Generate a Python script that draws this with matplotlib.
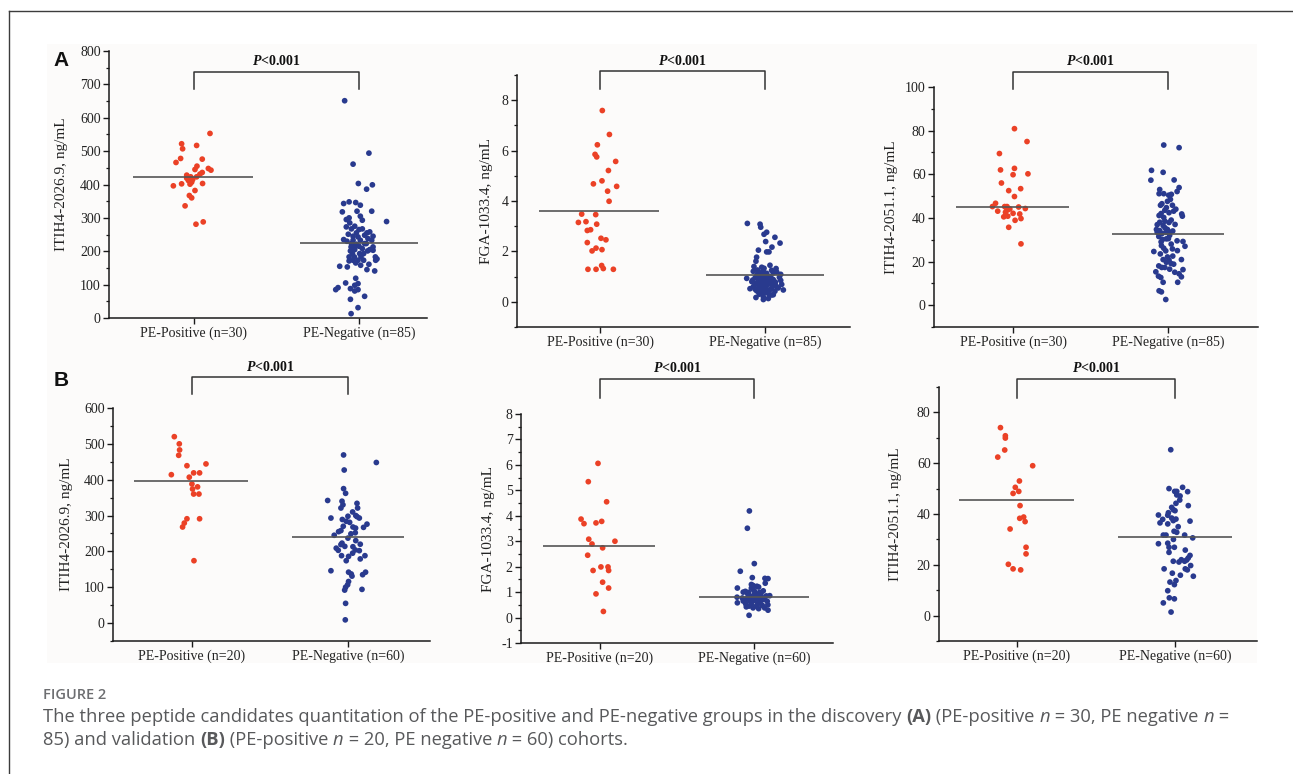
import numpy as np
import matplotlib
matplotlib.use('Agg')
import matplotlib.pyplot as plt
from matplotlib.ticker import MultipleLocator
from matplotlib.transforms import blended_transform_factory
from matplotlib.patches import Rectangle
from matplotlib.lines import Line2D

plt.rcParams['font.family'] = ['Liberation Serif', 'DejaVu Serif']
plt.rcParams['axes.unicode_minus'] = False
plt.rcParams['mathtext.fontset'] = 'custom'
plt.rcParams['mathtext.bf'] = 'Liberation Serif:bold'
plt.rcParams['mathtext.bfit'] = 'Liberation Serif:italic:bold'
plt.rcParams['mathtext.it'] = 'Liberation Serif:italic'
plt.rcParams['mathtext.rm'] = 'Liberation Serif'

W, H = 1293, 774

# ---------------- data ----------------
# dx = horizontal scatter offset from the group centre, in group units
a1_pos_val = [553, 522, 517, 507, 478, 476, 466, 455, 445, 448, 443, 436, 431, 423, 419,
              423, 412, 407, 402, 396, 401, 403, 382, 367, 360, 336, 288, 281, 415, 428]
a1_pos_dx = [0.097, -0.075, 0.016, -0.069, -0.081, 0.05, -0.109, 0.018, 0.006, 0.087, 0.103,
             0.05, 0.036, -0.02, -0.044, 0.016, -0.034, -0.014, -0.075, -0.125, -0.024, 0.052,
             0.006, -0.028, -0.014, -0.054, 0.056, 0.012, -0.008, -0.044]
a1_neg_val = [651, 494, 461, 403, 399, 386, 343, 348, 346, 338, 318, 320, 320, 300, 295, 305,
              293, 289, 285, 275, 267, 265, 267, 258, 255, 255, 251, 245, 245, 233, 235, 230,
              223, 221, 215, 213, 213, 205, 201, 203, 201, 205, 193, 183, 183, 183, 173, 173,
              171, 173, 165, 183, 177, 173, 161, 155, 153, 145, 141, 119, 105, 103, 98, 91, 85,
              88, 85, 81, 65, 56, 31, 13,
              243, 233, 223, 233, 208, 193, 193, 223, 273, 248, 238, 213, 158]
a1_neg_dx = [-0.087, 0.06, -0.036, -0.004, 0.081, 0.046, -0.093, -0.06, -0.02, 0.008, -0.101,
             -0.012, 0.077, -0.06, -0.077, 0.008, 0.02, 0.167, -0.056, -0.026, -0.046, 0.0, 0.02,
             0.065, 0.048, -0.016, -0.065, -0.036, 0.085, 0.077, -0.093, -0.073, -0.046, -0.016,
             0.0, -0.048, 0.085, 0.065, 0.052, 0.085, -0.052, -0.026, -0.04, -0.06, -0.028,
             0.012, -0.006, -0.036, -0.06, 0.028, -0.02, 0.099, 0.109, 0.101, 0.06, -0.117,
             -0.071, 0.048, 0.095, -0.02, -0.081, -0.006, -0.026, -0.127, -0.141, -0.052,
             -0.006, -0.026, 0.034, -0.052, -0.006, -0.048,
             -0.006, 0.008, 0.034, -0.036, 0.02, 0.028, 0.004, 0.044, -0.077, 0.034, 0.054,
             -0.026, 0.01]

a2_pos_val = [7.59, 6.64, 6.23, 5.85, 5.75, 5.57, 5.21, 4.80, 4.68, 4.58, 4.39, 3.99, 3.48, 3.46,
              3.15, 3.18, 3.08, 2.83, 2.86, 2.52, 2.46, 2.35, 2.13, 2.02, 2.07, 1.44, 1.32, 1.29,
              1.29, 1.29]
a2_pos_dx = [0.014, 0.057, -0.016, -0.03, -0.02, 0.095, 0.051, 0.012, -0.04, 0.101, 0.046, 0.055,
             -0.111, -0.026, -0.131, -0.085, -0.02, -0.077, -0.057, 0.006, 0.036, -0.077, -0.024,
             -0.048, 0.012, 0.01, 0.02, -0.073, -0.024, 0.081]
a2_neg_val = [3.11, 3.08, 2.96, 2.76, 2.68, 2.56, 2.33, 2.39, 2.17, 1.98, 1.98, 2.05, 1.77, 1.61,
              1.45, 1.40, 1.37, 1.33, 1.32, 1.26, 1.21, 1.16, 1.18, 1.09, 1.13, 1.06, 1.02, 0.93,
              0.92, 0.97, 0.97, 0.97, 0.86, 0.84, 0.84, 0.81, 0.78, 0.73, 0.70, 0.69, 0.69, 0.60,
              0.60, 0.57, 0.53, 0.53, 0.52, 0.47, 0.44, 0.44, 0.36, 0.27, 0.17, 0.20, 0.13, 0.09,
              1.10, 1.00, 0.95, 0.90, 0.88, 0.80, 0.78, 0.75, 0.72, 0.70, 0.68, 0.65, 0.62, 0.60,
              0.58, 0.55, 0.50, 0.48, 0.45, 0.42, 0.40, 0.38, 0.33, 0.30, 0.28, 1.25, 1.20, 1.15,
              0.85]
a2_neg_dx = [-0.107, -0.03, -0.026, 0.01, -0.006, 0.06, 0.091, 0.004, 0.042, 0.01, 0.024, -0.04,
             -0.051, -0.055, 0.03, -0.067, -0.02, -0.006, 0.067, -0.046, -0.071, -0.034, 0.071,
             0.095, 0.01, -0.014, -0.051, -0.111, 0.04, -0.026, 0.0, 0.087, -0.075, -0.038,
             -0.014, 0.02, 0.063, -0.055, 0.0, -0.026, 0.101, 0.071, -0.071, -0.038, -0.01, 0.04,
             -0.091, 0.111, -0.051, 0.016, -0.024, 0.04, -0.055, -0.01, 0.02, -0.01,
             -0.045, 0.03, -0.06, 0.015, 0.05, -0.08, -0.005, 0.035, -0.045, 0.06, 0.015, -0.02,
             0.045, -0.035, 0.005, 0.08, -0.06, 0.03, -0.02, 0.06, -0.04, 0.0, 0.02, -0.035,
             0.05, 0.04, -0.01, 0.05, 0.095]

a3_pos_val = [80.9, 75.0, 69.5, 62.0, 62.7, 59.8, 60.2, 56.0, 53.4, 52.5, 49.8, 46.7, 45.2, 45.2,
              45.2, 45.0, 43.1, 43.7, 42.6, 42.1, 41.8, 44.3, 40.5, 40.8, 39.7, 38.9, 35.7, 28.1,
              44.6, 44.1]
a3_pos_dx = [0.009, 0.09, -0.088, -0.081, 0.009, 0.0, 0.096, -0.075, 0.049, -0.028, 0.009, -0.113,
             -0.133, -0.054, -0.039, 0.036, -0.099, -0.034, -0.049, 0.0, 0.043, 0.079, -0.06,
             -0.034, 0.051, 0.013, -0.028, 0.051, -0.043, -0.021]
a3_neg_val = [73.4, 72.2, 61.8, 60.9, 57.3, 57.4, 53.9, 53.0, 52.1, 51.1, 51.1, 50.4, 50.8, 47.6,
              45.8, 45.8, 44.7, 43.5, 43.1, 42.4, 41.8, 40.8, 41.1, 40.2, 38.0, 38.5, 37.9, 36.9,
              36.5, 34.7, 34.2, 34.7, 33.4, 33.4, 33.4, 32.8, 30.4, 30.1, 30.5, 29.5, 29.2, 27.0,
              27.3, 26.1, 25.8, 24.6, 24.9, 22.1, 20.9, 20.6, 20.9, 19.7, 19.1, 18.8, 17.3, 17.3,
              16.3, 15.3, 15.1, 14.4, 13.3, 12.7, 13.0, 10.5, 10.5, 6.6, 6.1, 2.6,
              48.5, 46.5, 44.0, 42.0, 39.0, 37.0, 35.5, 34.0, 32.0, 31.5, 29.0, 28.0, 25.0, 23.5,
              22.5, 18.0, 16.5]
a3_neg_dx = [-0.028, 0.071, -0.107, -0.032, -0.111, 0.039, 0.071, -0.054, 0.058, -0.058, -0.028,
             0.004, 0.021, -0.004, -0.049, 0.028, -0.011, -0.021, 0.036, 0.006, 0.088, 0.092,
             -0.058, -0.028, -0.054, -0.021, 0.006, -0.07, -0.032, -0.075, -0.054, -0.004,
             -0.015, 0.011, -0.07, -0.04, -0.011, -0.036, 0.002, 0.058, 0.096, 0.109, -0.043,
             -0.028, 0.028, -0.092, -0.015, -0.004, -0.032, 0.006, 0.086, -0.011, 0.019, 0.036,
             -0.041, -0.021, 0.096, -0.079, 0.043, 0.071, -0.062, -0.047, 0.086, -0.032, 0.062,
             -0.058, -0.043, -0.015,
             0.015, -0.04, 0.05, -0.045, 0.02, 0.045, -0.02, 0.03, 0.01, -0.06, -0.045, 0.02,
             0.06, -0.05, 0.03, -0.06, 0.01]

b1_pos_val = [520, 500, 483, 468, 439, 444, 414, 419, 419, 407, 388, 380, 374, 360, 360, 291,
              291, 279, 268, 174]
b1_pos_dx = [-0.113, -0.081, -0.079, -0.085, -0.032, 0.09, -0.132, 0.011, 0.049, -0.017, 0.0,
             0.036, 0.004, 0.011, 0.045, -0.032, 0.049, -0.049, -0.06, 0.013]
b1_neg_val = [469, 448, 427, 375, 362, 342, 340, 334, 330, 321, 321, 310, 298, 293, 297, 293, 289,
              284, 281, 276, 267, 268, 265, 258, 249, 252, 245, 237, 223, 219, 220, 213, 209, 203,
              204, 202, 188, 186, 188, 179, 174, 146, 142, 142, 137, 135, 131, 116, 107, 100, 92,
              94, 55, 9,
              255, 230, 214, 195, 270, 300]
b1_neg_dx = [-0.028, 0.182, -0.024, -0.028, -0.015, -0.13, -0.038, 0.058, -0.032, -0.045, 0.062,
             0.03, 0.0, -0.109, 0.058, 0.073, -0.036, -0.011, 0.011, 0.122, 0.1, 0.032, 0.049,
             -0.045, 0.019, 0.047, -0.088, 0.0, -0.038, -0.045, 0.079, 0.032, -0.075, -0.062,
             0.047, 0.073, -0.041, 0.004, 0.109, 0.079, -0.011, -0.109, 0.004, 0.113, 0.021,
             0.094, 0.026, 0.004, -0.002, -0.015, -0.021, 0.09, -0.015, -0.017,
             -0.06, 0.05, -0.02, 0.03, -0.03, 0.05]

b2_pos_val = [6.06, 5.34, 4.55, 3.87, 3.69, 3.72, 3.78, 3.08, 3.00, 2.89, 2.74, 2.45, 1.99, 1.99,
              1.85, 1.85, 1.39, 1.16, 0.93, 0.24]
b2_pos_dx = [-0.013, -0.076, 0.043, -0.123, -0.104, -0.026, 0.011, -0.073, 0.097, -0.052, 0.017,
             -0.08, 0.006, 0.052, -0.045, 0.056, 0.017, 0.056, -0.026, 0.022]
b2_neg_val = [4.19, 3.51, 2.12, 1.82, 1.57, 1.54, 1.53, 1.35, 1.30, 1.26, 1.23, 1.16, 1.16, 1.03,
              0.99, 0.99, 1.03, 0.80, 0.86, 0.86, 0.90, 0.82, 0.77, 0.71, 0.71, 0.67, 0.67, 0.71,
              0.64, 0.58, 0.54, 0.54, 0.58, 0.48, 0.45, 0.45, 0.38, 0.38, 0.29, 0.09,
              1.20, 1.10, 1.05, 1.00, 0.95, 0.92, 0.88, 0.85, 0.83, 0.78, 0.75, 0.73, 0.70, 0.65,
              0.62, 0.60, 0.55, 0.50, 0.42, 0.35]
b2_neg_dx = [-0.03, -0.043, 0.002, -0.089, -0.011, 0.071, 0.091, 0.073, -0.017, -0.006, 0.019,
             -0.108, -0.017, -0.056, -0.035, 0.037, 0.004, -0.11, 0.102, -0.032, 0.019, 0.048,
             -0.076, -0.054, -0.006, -0.028, 0.011, 0.063, 0.086, -0.108, -0.054, -0.017, 0.037,
             0.054, -0.032, 0.015, -0.006, 0.069, 0.091, -0.032,
             0.03, -0.005, 0.06, -0.07, 0.045, -0.04, 0.0, 0.08, -0.02, 0.03, -0.045, 0.065,
             0.015, -0.07, 0.04, -0.015, 0.025, 0.09, -0.05, 0.03]

b3_pos_val = [74.0, 70.8, 69.9, 65.2, 62.4, 59.0, 53.0, 50.5, 48.1, 48.9, 43.3, 38.3, 38.8, 37.0,
              34.1, 26.9, 24.3, 20.2, 18.4, 18.0]
b3_pos_dx = [-0.105, -0.074, -0.074, -0.078, -0.122, 0.099, 0.015, -0.011, -0.025, 0.011, 0.019,
             0.017, 0.042, 0.051, -0.044, 0.057, 0.057, -0.055, -0.025, 0.023]
b3_neg_val = [65.3, 50.0, 50.5, 48.9, 48.9, 48.8, 47.5, 47.1, 44.2, 43.3, 42.6, 41.7, 41.3, 40.5,
              39.6, 39.5, 38.4, 37.9, 38.0, 37.4, 37.2, 36.5, 36.1, 33.2, 32.8, 31.7, 31.7, 31.7,
              30.6, 28.3, 28.5, 26.9, 26.9, 25.8, 24.9, 23.7, 22.7, 21.9, 21.4, 21.1, 21.4, 19.7,
              18.4, 18.4, 18.0, 16.7, 15.9, 15.5, 13.8, 13.2, 12.2, 9.8, 7.0, 6.6, 5.0, 1.4,
              45.5, 35.0, 30.0, 22.0]
b3_neg_dx = [-0.027, -0.038, 0.048, -0.002, 0.011, 0.08, 0.011, 0.032, 0.006, 0.084, -0.021,
             -0.011, 0.0, -0.042, -0.105, -0.046, -0.021, -0.078, 0.006, -0.011, 0.095, -0.095,
             -0.046, -0.006, 0.011, -0.074, -0.057, 0.061, 0.112, -0.105, -0.046, -0.038, -0.004,
             0.065, -0.038, 0.095, 0.084, 0.074, -0.011, 0.025, 0.061, 0.099, -0.069, 0.065,
             0.078, -0.017, 0.034, 0.116, 0.006, -0.032, -0.004, -0.046, -0.036, -0.004, -0.074,
             -0.025,
             0.03, 0.02, -0.01, 0.04]

# group means (horizontal lines)
means = {'a1': (423, 225), 'a2': (3.59, 1.05), 'a3': (44.9, 32.7),
         'b1': (397, 240), 'b2': (2.81, 0.80), 'b3': (45.6, 31.1)}

labels_a = ['PE-Positive (n=30)', 'PE-Negative (n=85)']
labels_b = ['PE-Positive (n=20)', 'PE-Negative (n=60)']
ylabels = ['ITIH4-2026.9, ng/mL', 'FGA-1033.4, ng/mL', 'ITIH4-2051.1, ng/mL']
p_text = r'$\mathbfit{P}$<0.001'

RED = '#EB4126'
BLUE = '#293A8E'

# ---------------- layout (pixel boxes of each axes) ----------------
panels = {
    'a1': dict(box=(109, 427, 51, 318), ylim=(0, 800), maj=100, mnr=50, xlim=(0.485, 2.412),
               ylx=-0.129, br=(72, 89, 61), pos=(a1_pos_val, a1_pos_dx), neg=(a1_neg_val, a1_neg_dx),
               xl=labels_a, yl=ylabels[0]),
    'a2': dict(box=(517, 850, 75, 327), ylim=(-1, 9), maj=2, mnr=1, xlim=(0.497, 2.515),
               ylx=-0.072, br=(71, 89, 61), pos=(a2_pos_val, a2_pos_dx), neg=(a2_neg_val, a2_neg_dx),
               xl=labels_a, yl=ylabels[1]),
    'a3': dict(box=(934, 1258, 87, 327), ylim=(-10, 100), maj=20, mnr=10, xlim=(0.49, 2.58),
               ylx=-0.111, br=(72, 89, 61), pos=(a3_pos_val, a3_pos_dx), neg=(a3_neg_val, a3_neg_dx),
               xl=labels_a, yl=ylabels[2]),
    'b1': dict(box=(113, 430, 408, 641), ylim=(-50, 600), maj=100, mnr=50, xlim=(0.494, 2.526),
               ylx=-0.126, br=(377, 394, 367), pos=(b1_pos_val, b1_pos_dx), neg=(b1_neg_val, b1_neg_dx),
               xl=labels_b, yl=ylabels[0]),
    'b2': dict(box=(521, 833, 414, 643), ylim=(-1, 8), maj=1, mnr=0.5, xlim=(0.487, 2.513),
               ylx=-0.083, br=(379, 398, 368), pos=(b2_pos_val, b2_pos_dx), neg=(b2_neg_val, b2_neg_dx),
               xl=labels_b, yl=ylabels[1]),
    'b3': dict(box=(939, 1257, 387, 641), ylim=(-10, 90), maj=20, mnr=10, xlim=(0.506, 2.519),
               ylx=-0.116, br=(379, 398, 368), pos=(b3_pos_val, b3_pos_dx), neg=(b3_neg_val, b3_neg_dx),
               xl=labels_b, yl=ylabels[2]),
}

fig = plt.figure(figsize=(W / 100, H / 100), dpi=100)
fig.patch.set_facecolor('white')

# faint panel background and the page frame (behind everything)
fig.add_artist(Rectangle((47 / W, 1 - 663 / H), (1257 - 47) / W, (663 - 44) / H,
                         transform=fig.transFigure, facecolor='#FCFBFA', edgecolor='none', zorder=-5))
fig.add_artist(Line2D([9 / W, 1], [1 - 11 / H, 1 - 11 / H], color='#3c3c3c', lw=1.0, zorder=-4))
fig.add_artist(Line2D([9 / W, 9 / W], [0, 1 - 11 / H], color='#3c3c3c', lw=1.0, zorder=-4))

TXT = '#222222'
for key, p in panels.items():
    l, r, t, b = p['box']
    ax = fig.add_axes([l / W, 1 - b / H, (r - l) / W, (b - t) / H])
    ax.set_facecolor('none')
    for s in ['top', 'right']:
        ax.spines[s].set_visible(False)
    for s in ['left', 'bottom']:
        ax.spines[s].set_linewidth(1.1)
        ax.spines[s].set_color('#1a1a1a')

    pv, pdx = p['pos']
    nv, ndx = p['neg']
    ax.scatter(1 + np.array(pdx), pv, s=17, color=RED, edgecolors='none', zorder=2, clip_on=False)
    ax.scatter(2 + np.array(ndx), nv, s=17, color=BLUE, edgecolors='none', zorder=2, clip_on=False)
    mp, mn = means[key]
    ax.hlines([mp, mn], [1 - 0.37, 2 - 0.36], [1 + 0.36, 2 + 0.36], color='#555555', lw=1.2, zorder=3)

    ax.set_xlim(*p['xlim'])
    ax.set_ylim(*p['ylim'])
    ax.set_xticks([1, 2])
    ax.set_xticklabels(p['xl'])
    ax.yaxis.set_major_locator(MultipleLocator(p['maj']))
    ax.yaxis.set_minor_locator(MultipleLocator(p['mnr']))
    ax.tick_params(axis='both', which='major', direction='out', length=4, width=1.0,
                   labelsize=10, colors='#1a1a1a', labelcolor=TXT, pad=2)
    ax.tick_params(axis='y', which='minor', direction='out', length=2.5, width=0.9, colors='#1a1a1a')
    ax.set_ylabel(p['yl'], fontsize=11, color=TXT)
    ax.yaxis.set_label_coords(p['ylx'], 0.5)

    # significance bracket
    trans = blended_transform_factory(ax.transData, fig.transFigure)
    ytop, yleg, ytxt = p['br']
    ax.plot([1, 1, 2, 2], [1 - yleg / H, 1 - ytop / H, 1 - ytop / H, 1 - yleg / H],
            transform=trans, color='#333333', lw=1.1, clip_on=False)
    ax.text(1.5, 1 - ytxt / H, p_text, transform=trans, ha='center', va='center',
            fontsize=10, fontweight='bold', color='#111111')

# panel letters
fig.text(61 / W, 1 - 61 / H, 'A', fontsize=15, fontweight='bold', family='Liberation Sans',
         ha='center', va='center', color='#111111')
fig.text(61 / W, 1 - 380 / H, 'B', fontsize=15, fontweight='bold', family='Liberation Sans',
         ha='center', va='center', color='#111111')

# caption
renderer = fig.canvas.get_renderer()


def rich_line(x_px, y_px, parts, size, color):
    x = x_px
    for s, kw in parts:
        tt = fig.text(x / W, 1 - y_px / H, s, fontsize=size, color=color, va='center',
                      ha='left', family='Open Sans', **kw)
        x += tt.get_window_extent(renderer=renderer).width


fig.text(43 / W, 1 - 695 / H, 'FIGURE 2', fontsize=10.5, fontweight='semibold',
         family='Open Sans', color='#6d6e71', va='center')
NRM, BLD, ITA = {}, {'fontweight': 'bold'}, {'style': 'italic'}
CAP = '#58595b'
rich_line(43, 717, [
    ('The three peptide candidates quantitation of the PE-positive and PE-negative groups in the discovery ', NRM),
    ('(A)', BLD), (' (PE-positive ', NRM), ('n', ITA), (' = 30, PE negative ', NRM), ('n', ITA), (' =', NRM)],
    13.25, CAP)
rich_line(43, 740, [
    ('85) and validation ', NRM), ('(B)', BLD), (' (PE-positive ', NRM), ('n', ITA),
    (' = 20, PE negative ', NRM), ('n', ITA), (' = 60) cohorts.', NRM)],
    13.25, CAP)

fig.savefig('out.png', dpi=100)
